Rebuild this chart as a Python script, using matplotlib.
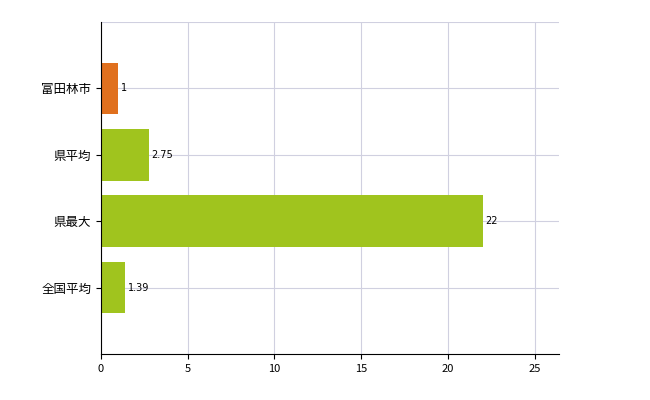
import matplotlib
matplotlib.use("Agg")
import matplotlib.pyplot as plt

plt.rcParams['font.family'] = ['Noto Sans CJK JP', 'DejaVu Sans']

categories = ['富田林市', '県平均', '県最大', '全国平均']
values = [1, 2.75, 22, 1.39]
labels = ['1', '2.75', '22', '1.39']
colors = ['#E0701E', '#A0C41E', '#A0C41E', '#A0C41E']

fig = plt.figure(figsize=(6.5, 4), dpi=100)
ax = fig.add_axes([101/650, 46/400, 458/650, 332/400])
ypos = list(range(len(categories)))
ax.barh(ypos, values, height=0.78, color=colors, zorder=2)
for y, v, t in zip(ypos, values, labels):
    ax.text(v + 0.15, y, t, va='center', ha='left', fontsize=7, family=['DejaVu Sans'])
ax.set_yticks(ypos)
ax.set_yticklabels(categories, fontsize=9)
ax.set_xticks([0, 5, 10, 15, 20, 25])
ax.tick_params(axis='x', labelsize=8)
ax.set_xlim(0, 26.4)
ax.set_ylim(4, -1)
ax.grid(True, color='#D0D0E0', linewidth=0.8, zorder=0)
ax.axhline(-1, color='#D0D0E0', linewidth=0.8)
for s in ['top', 'right']:
    ax.spines[s].set_visible(False)
fig.savefig('out.png')
